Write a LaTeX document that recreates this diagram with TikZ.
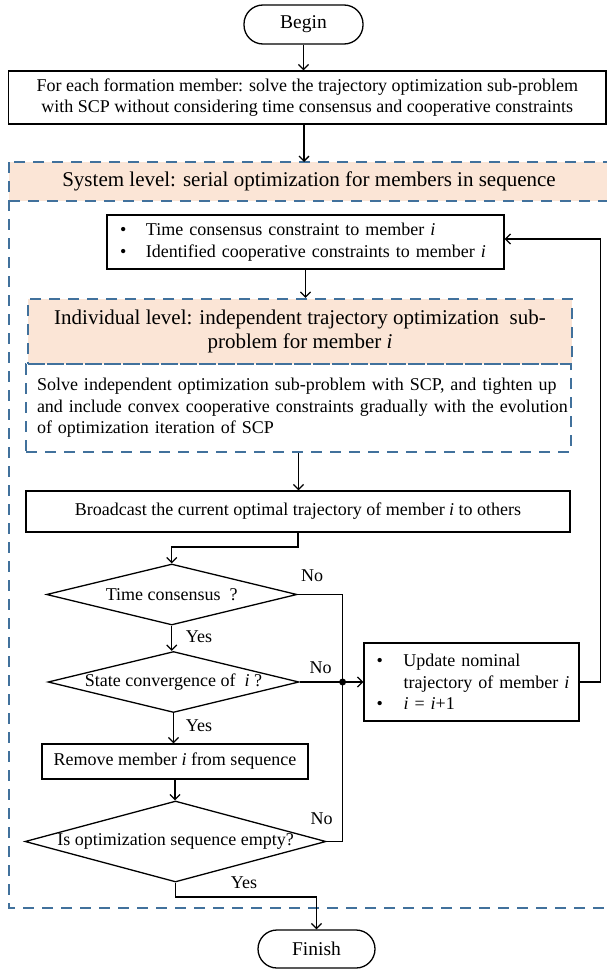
\documentclass[tikz,border=0pt]{standalone}
\usepackage{fontspec}
\setmainfont{Liberation Serif}
\usetikzlibrary{shapes.geometric,arrows.meta}
\definecolor{dblue}{RGB}{65,113,156}
\definecolor{peach}{RGB}{251,229,214}
\begin{document}
\begin{tikzpicture}[x=1pt,y=-1pt,
  every node/.style={font=\fontsize{18}{21.5}\selectfont},
  box/.style={draw,line width=1.3pt,rectangle,inner sep=0pt},
  term/.style={box,rounded corners=19pt,font=\fontsize{19.5}{23}\selectfont},
  dec/.style={draw,line width=1.3pt,shape=diamond,inner sep=0pt},
  dbox/.style={draw=dblue,line width=2.3pt,dash pattern=on 11pt off 8pt},
  arr/.style={line width=1.3pt,-{Straight Barb[length=5pt,width=10pt]}},
  conn/.style={line width=1.3pt},
  lbl/.style={inner sep=0pt},
  head/.style={font=\fontsize{21}{24}\selectfont}]
\useasboundingbox (0,0) rectangle (607,971);

% system level frame
\path[fill=peach] (9,162) rectangle (620,201);
\draw[dbox] (9,162) rectangle (620,908);
\draw[dbox] (9,201) -- (620,201);
\node[head,lbl] (band) at (309,181.5) {System level: serial optimization for members in sequence};

\node[term, minimum width=119pt, minimum height=39pt] (begin) at (303.5,24.5) {Begin};
\node[box, minimum width=597.5pt, minimum height=53pt, align=center] (box1) at (307.25,97.5)
  {For each formation member: solve the trajectory optimization sub-problem\\with SCP without considering time consensus and cooperative constraints};
\coordinate (bandtop) at (304,162);

\node[box, minimum width=397pt, minimum height=54pt, text width=371pt, inner xsep=13pt, align=left] (box2) at (305.5,242)
  {\makebox[26pt][l]{\textbullet}Time consensus constraint to member \textit{i}\\\makebox[26pt][l]{\textbullet}Identified cooperative constraints to member \textit{i}};

\node[dbox, fill=peach, head, minimum width=544pt, minimum height=65pt, align=center, inner sep=0pt] (ind) at (300,331.5)
  {Individual level: independent trajectory optimization\ \ sub-\\problem for member \textit{i}};
\node[dbox, minimum width=545pt, minimum height=88pt, text width=523pt, inner xsep=11pt, align=left] (solve) at (298.5,408)
  {\mbox{Solve independent optimization sub-problem with SCP, and tighten up}\\\mbox{and include convex cooperative constraints gradually with the evolution}\\\mbox{of optimization iteration of SCP}};

\node[box, minimum width=544pt, minimum height=41pt] (bcast) at (298,511.5)
  {Broadcast the current optimal trajectory of member \textit{i} to others};

\node[dec, minimum width=250.5pt, minimum height=61pt, aspect=4.1] (d1) at (171.75,594.5) {Time consensus\ \ ?};
\node[dec, minimum width=251pt, minimum height=61pt, aspect=4.1] (d2) at (173.5,682) {State convergence of\ \ \textit{i} ?};
\node[box, minimum width=266pt, minimum height=35pt] (rem) at (175,761.5) {Remove member \textit{i} from sequence};
\node[dec, minimum width=301pt, minimum height=81pt, aspect=3.7] (d3) at (175.5,841.5) {Is optimization sequence empty?};

\node[box, minimum width=215pt, minimum height=78pt, text width=190pt, inner xsep=12.5pt, align=left] (upd) at (471.5,682)
  {\makebox[27pt][l]{\textbullet}Update nominal\\\hspace*{27pt}\mbox{trajectory of member \textit{i}}\\\makebox[27pt][l]{\textbullet}\textit{i} = \textit{i}+1};

\node[term, minimum width=117pt, minimum height=38pt] (fin) at (316.5,949) {Finish};

% labels
\node[lbl] (no1) at (312,576) {No};
\node[lbl] (no2) at (320.5,668) {No};
\node[lbl] (no3) at (321.5,819) {No};
\node[lbl] (yes1) at (199,637) {Yes};
\node[lbl] (yes2) at (199,726) {Yes};
\node[lbl] (yes3) at (244,883) {Yes};

% connectors
\draw[arr] (begin.south) -- (begin.south |- box1.north);
\draw[arr] (box1.south -| bandtop) -- (bandtop);
\draw[arr] (box2.south) -- (box2.south |- ind.north);
\draw[arr] (solve.south) -- (solve.south |- bcast.north);
\coordinate (t1) at (171.75,547);
\draw[arr] (bcast.south) |- (t1) -- (d1.north);
\draw[arr] (d1.south) -- (d1.south |- d2.north);
\draw[arr] (d2.south) -- (d2.south |- rem.north);
\draw[arr] (rem.south) -- (rem.south |- d3.north);
\coordinate (t3) at (175.5,897);
\draw[arr] (d3.south) -- (t3) -| (fin.north);

\coordinate (jn) at (342.6,682);
\draw[conn] (d1.east) -| (jn);
\draw[conn] (d3.east) -| (jn);
\draw[conn] (d2.east) -- (jn);
\fill (jn) circle (3.5pt);
\draw[arr] (jn) -- (upd.west);

\coordinate (fb) at (600.7,239);
\draw[arr] (upd.east) -| (fb) -- (fb -| box2.east);
\end{tikzpicture}
\end{document}
